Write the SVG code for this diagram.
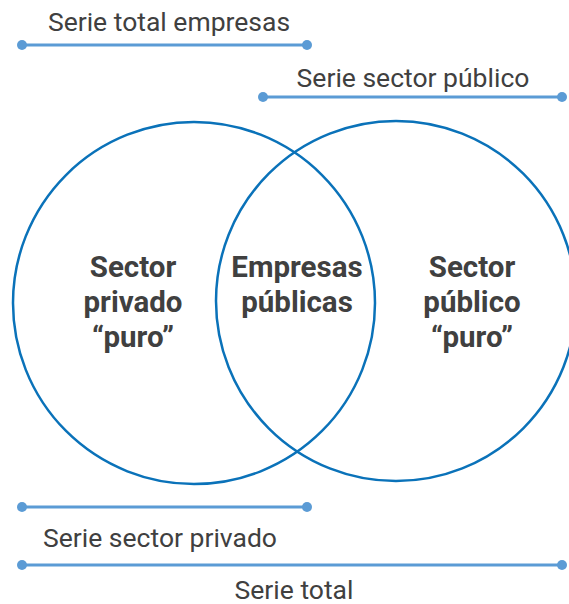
<svg xmlns="http://www.w3.org/2000/svg" width="569" height="604" viewBox="0 0 569 604">
<style>
.c{fill:none;stroke:#0a72b9;stroke-width:2.5}
.l{stroke:#5b9bd5;stroke-width:3}
.d{fill:#5b9bd5}
.t{font-family:Roboto,"Liberation Sans",sans-serif;font-size:26.5px;fill:#404040;text-anchor:middle}
.b{font-family:Roboto,"Liberation Sans",sans-serif;font-size:29.5px;font-weight:bold;fill:#404040;text-anchor:middle}
</style>
<rect width="569" height="604" fill="#fff"/>
<g id="circle-privado"><circle class="c" cx="194" cy="303" r="181"/></g>
<g id="circle-publico"><circle class="c" cx="396" cy="301" r="180"/></g>
<g id="label-privado"><text class="b" x="133" y="277">Sector<tspan x="133" y="312">privado</tspan><tspan x="133" y="347">“puro”</tspan></text></g>
<g id="label-empresas"><text class="b" x="297" y="277">Empresas<tspan x="297" y="312">públicas</tspan></text></g>
<g id="label-publico"><text class="b" x="472" y="277">Sector<tspan x="472" y="312">público</tspan><tspan x="472" y="347">“puro”</tspan></text></g>
<g id="connectors">
<line class="l" x1="22" y1="45" x2="307" y2="45"/><circle class="d" cx="22" cy="45" r="5"/><circle class="d" cx="307" cy="45" r="5"/>
<line class="l" x1="263" y1="97" x2="562" y2="97"/><circle class="d" cx="263" cy="97" r="5"/><circle class="d" cx="562" cy="97" r="5"/>
<line class="l" x1="22" y1="507" x2="307" y2="507"/><circle class="d" cx="22" cy="507" r="5"/><circle class="d" cx="307" cy="507" r="5"/>
<line class="l" x1="22" y1="565" x2="562" y2="565"/><circle class="d" cx="22" cy="565" r="5"/><circle class="d" cx="562" cy="565" r="5"/>
</g>
<g id="series-labels">
<text class="t" x="169" y="31">Serie total empresas</text>
<text class="t" x="413" y="87">Serie sector público</text>
<text class="t" x="160" y="547">Serie sector privado</text>
<text class="t" x="294" y="599">Serie total</text>
</g>
</svg>
